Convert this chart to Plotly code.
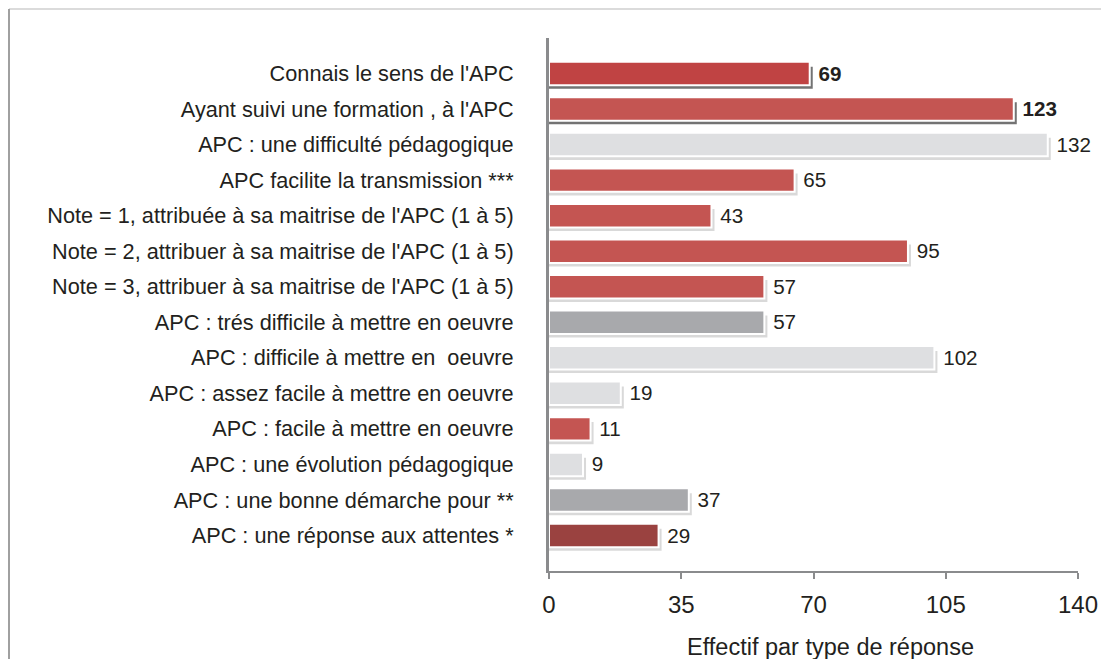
import plotly.graph_objects as go

categories = [
    "Connais le sens de l'APC",
    "Ayant suivi une formation , à l'APC",
    "APC : une difficulté pédagogique",
    "APC facilite la transmission ***",
    "Note = 1, attribuée à sa maitrise de l'APC (1 à 5)",
    "Note = 2, attribuer à sa maitrise de l'APC (1 à 5)",
    "Note = 3, attribuer à sa maitrise de l'APC (1 à 5)",
    "APC : trés difficile à mettre en oeuvre",
    "APC : difficile à mettre en  oeuvre",
    "APC : assez facile à mettre en oeuvre",
    "APC : facile à mettre en oeuvre",
    "APC : une évolution pédagogique",
    "APC : une bonne démarche pour **",
    "APC : une réponse aux attentes *",
]
values = [69, 123, 132, 65, 43, 95, 57, 57, 102, 19, 11, 9, 37, 29]
colors = ["#C04343", "#C45552", "#DEDFE1", "#C45552", "#C45552", "#C45552", "#C45552",
          "#A8A9AC", "#DEDFE1", "#DEDFE1", "#C45552", "#DEDFE1", "#A8A9AC", "#9A4240"]
bold = [True, True] + [False] * 12
x_ticks = [0, 35, 70, 105, 140]
x_title = "Effectif par type de réponse"

FONT = "Liberation Sans, Arial, sans-serif"
pos = list(range(len(categories)))
labels = [f" <b>{v}</b>" if b else f" {v}" for v, b in zip(values, bold)]
shadow_cols = ["rgba(0,0,0,0.55)" if b else "rgba(0,0,0,0.15)" for b in bold]

fig = go.Figure()
fig.add_trace(go.Bar(
    x=[v + 0.8 for v in values], y=pos, orientation="h",
    width=0.62, offset=-0.19,
    marker=dict(color=shadow_cols, line=dict(width=0)),
    hoverinfo="skip", showlegend=False,
))
fig.add_trace(go.Bar(
    x=values, y=pos, orientation="h",
    width=0.66, offset=-0.33,
    marker=dict(color=colors, line=dict(color="white", width=2)),
    text=labels, textposition="outside", cliponaxis=False,
    textfont=dict(size=22, color="#231f20", family=FONT),
    showlegend=False,
))

fig.update_layout(
    width=1109, height=659,
    barmode="overlay",
    plot_bgcolor="white", paper_bgcolor="white",
    margin=dict(l=541, r=39, t=30, b=96),
    font=dict(family=FONT, color="#231f20"),
    xaxis=dict(
        range=[0, 140], tickvals=x_ticks, ticktext=[str(t) for t in x_ticks],
        showgrid=False, zeroline=False, showline=True, linecolor="#8a8b8d", linewidth=2,
        ticks="outside", ticklen=6, tickcolor="#8a8b8d", tickwidth=2,
        tickfont=dict(size=24), ticklabelstandoff=5,
    ),
    yaxis=dict(
        range=[14, -1], tickvals=pos, ticktext=categories,
        showgrid=False, zeroline=False, showline=True, linecolor="#8a8b8d", linewidth=3,
        ticks="", tickfont=dict(size=21.7), ticklabelstandoff=28,
    ),
    annotations=[dict(text=x_title, xref="paper", yref="paper", x=0.533, y=-0.1426,
                      xanchor="center", yanchor="middle", showarrow=False,
                      font=dict(size=23.5, color="#231f20"))],
    shapes=[
        dict(type="line", xref="paper", yref="paper", x0=-1.0208, x1=1.0491, y0=1.0544, y1=1.0544,
             line=dict(color="#cfcfcf", width=1.5), layer="below"),
        dict(type="line", xref="paper", yref="paper", x0=-1.0208, x1=-1.0208, y0=-0.3, y1=1.0544,
             line=dict(color="#a0a0a0", width=2), layer="below"),
        dict(type="line", xref="paper", yref="paper", x0=1.0491, x1=1.0491, y0=-0.3, y1=1.0544,
             line=dict(color="#cfcfcf", width=1.5), layer="below"),
    ],
)

fig.write_html("out.html")
